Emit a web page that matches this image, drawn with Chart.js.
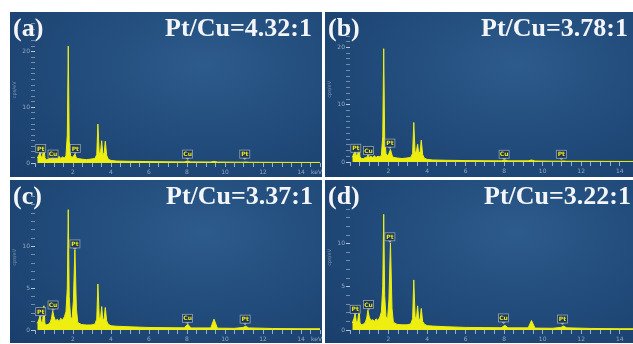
<!DOCTYPE html>
<html>
<head>
<meta charset="utf-8">
<script src="https://cdn.jsdelivr.net/npm/chart.js@4.4.1/dist/chart.umd.min.js"></script>
<style>
  html, body { margin: 0; padding: 0; background: #fff; }
  #wrap { position: relative; width: 633px; height: 344px; overflow: hidden; background: #fff; }
  .panel {
    position: absolute;
    background: radial-gradient(ellipse 85% 95% at 62% 32%, #2d5b8b 0%, #224d7d 45%, #1a3f6c 100%);
  }
  .panel canvas { position: absolute; left: 0; top: 0; }
  .tag, .ratio {
    position: absolute;
    font-family: "Liberation Serif", "Times New Roman", serif;
    font-weight: bold;
    font-size: 26px;
    line-height: 26px;
    color: #f3f5f8;
    white-space: nowrap;
    z-index: 2;
  }
</style>
</head>
<body>
<div id="wrap">
  <div class="panel" style="left:10px;top:12px;width:312px;height:165px">
    <canvas id="ga"></canvas>
    <div class="tag" style="left:3px;top:3px">(a)</div>
    <div class="ratio" style="right:10px;top:3px">Pt/Cu=4.32:1</div>
  </div>
  <div class="panel" style="left:325px;top:12px;width:308px;height:165px">
    <canvas id="gb"></canvas>
    <div class="tag" style="left:3px;top:3px">(b)</div>
    <div class="ratio" style="right:5px;top:3px">Pt/Cu=3.78:1</div>
  </div>
  <div class="panel" style="left:10px;top:180px;width:312px;height:163px">
    <canvas id="gc"></canvas>
    <div class="tag" style="left:3px;top:3px">(c)</div>
    <div class="ratio" style="right:9px;top:3px">Pt/Cu=3.37:1</div>
  </div>
  <div class="panel" style="left:325px;top:180px;width:308px;height:163px">
    <canvas id="gd"></canvas>
    <div class="tag" style="left:3px;top:3px">(d)</div>
    <div class="ratio" style="right:2px;top:3px">Pt/Cu=3.22:1</div>
  </div>
</div>

<script>
// energia (keV) comum aos quatro espectros
const energias = [0.12, 0.2, 0.27, 0.33, 0.4, 0.47, 0.52, 0.6, 0.7, 0.8,
  0.87, 0.93, 1.0, 1.08, 1.18, 1.27, 1.35, 1.45, 1.55, 1.63,
  1.7, 1.75, 1.8, 1.87, 1.95, 2.02, 2.1, 2.18, 2.25, 2.45,
  2.7, 2.95, 3.15, 3.25, 3.31, 3.38, 3.45, 3.51, 3.57, 3.64,
  3.7, 3.77, 3.85, 4.0, 4.3, 5.0, 6.0, 7.0, 7.85, 8.04,
  8.2, 9.25, 9.42, 9.6, 10.5, 10.95, 11.08, 11.25, 12.5, 14.0, 15.2];

// contagens (cps/eV) de cada amostra
const contagensA = [0.9, 1.4, 1.9, 1.0, 1.3, 3.2, 0.9, 0.6, 0.7, 0.9,
  0.8, 1.3, 0.8, 1.1, 0.8, 1.2, 0.8, 1.1, 0.9, 1.3,
  5, 21, 4, 1.3, 1.0, 1.2, 1.6, 0.9, 0.8, 0.7,
  0.6, 0.7, 0.8, 1.5, 7.0, 1.6, 2.0, 4.0, 1.5, 1.8,
  3.9, 1.4, 0.7, 0.45, 0.35, 0.3, 0.25, 0.22, 0.2, 0.35,
  0.2, 0.18, 0.3, 0.17, 0.15, 0.14, 0.18, 0.13, 0.12, 0.1, 0.1];
const contagensB = [0.8, 1.5, 1.8, 1.1, 1.4, 2.6, 0.9, 0.6, 0.6, 0.8,
  0.8, 1.2, 0.8, 1.0, 0.8, 1.1, 0.8, 1.0, 0.9, 1.2,
  4.5, 19.8, 4, 1.4, 1.1, 1.5, 2.2, 1.2, 0.8, 0.7,
  0.6, 0.7, 0.8, 1.5, 6.9, 1.6, 1.9, 3.1, 1.5, 1.8,
  3.8, 1.3, 0.7, 0.45, 0.35, 0.3, 0.25, 0.22, 0.2, 0.35,
  0.2, 0.2, 0.35, 0.18, 0.15, 0.14, 0.18, 0.13, 0.12, 0.1, 0.1];
const contagensC = [0.8, 1.2, 1.7, 0.9, 1.0, 2.9, 0.8, 0.6, 0.7, 0.9,
  1.4, 2.3, 1.6, 1.1, 1.3, 1.0, 1.4, 1.2, 1.6, 2.2,
  5, 14.4, 4, 1.6, 1.3, 3.5, 9.6, 2.5, 0.9, 0.65,
  0.6, 0.6, 0.7, 1.3, 5.5, 1.5, 1.4, 2.8, 1.2, 1.4,
  2.7, 1.1, 0.7, 0.5, 0.45, 0.38, 0.3, 0.28, 0.26, 0.7,
  0.25, 0.25, 1.3, 0.22, 0.2, 0.3, 0.45, 0.25, 0.18, 0.15, 0.15];
const contagensD = [0.8, 1.3, 1.9, 0.9, 1.0, 2.4, 0.8, 0.6, 0.7, 0.9,
  1.4, 2.3, 1.5, 1.1, 1.2, 1.0, 1.3, 1.1, 1.5, 2.1,
  5, 13.4, 4, 1.5, 1.3, 3.5, 10.1, 2.5, 0.9, 0.65,
  0.6, 0.6, 0.7, 1.3, 5.8, 1.5, 1.4, 2.8, 1.2, 1.3,
  2.5, 1.0, 0.7, 0.5, 0.45, 0.38, 0.3, 0.28, 0.26, 0.55,
  0.25, 0.25, 1.1, 0.22, 0.2, 0.3, 0.45, 0.25, 0.18, 0.15, 0.15];

// etiquetas dos picos
const nomesPicos = ["Pt", "Cu", "Pt", "Cu", "Pt"];
const picosEnergiaA = [0.3, 0.95, 2.12, 8.03, 11.04];
const picosAlturaA = [2.6, 1.6, 2.6, 1.6, 1.6];
const picosEnergiaB = [0.3, 0.96, 2.07, 8.0, 10.97];
const picosAlturaB = [2.4, 2.0, 3.3, 1.35, 1.35];
const picosEnergiaC = [0.3, 0.95, 2.1, 8.03, 11.06];
const picosAlturaC = [2.2, 3.0, 10.3, 1.4, 1.3];
const picosEnergiaD = [0.27, 0.96, 2.07, 7.97, 11.03];
const picosAlturaD = [2.4, 2.95, 10.8, 1.4, 1.27];

const rotulosXkeV = [2, 4, 6, 8, 10, 12, 14];
const rotulosYAB = [0, 10, 20];
const rotulosYCD = [0, 5, 10];

const corEixo = "#93a8c2";

// desenha as caixinhas "Pt"/"Cu" sobre os picos
const etiquetasPicos = {
  id: "etiquetasPicos",
  afterDatasetsDraw(chart, args, opts) {
    const { ctx, scales: { x, y } } = chart;
    ctx.save();
    opts.energias.forEach((e, i) => {
      const px = x.getPixelForValue(e);
      const py = y.getPixelForValue(opts.alturas[i]);
      const w = 10, h = 8;
      ctx.fillStyle = "rgba(28,52,78,0.85)";
      ctx.strokeStyle = "rgba(190,200,210,0.75)";
      ctx.lineWidth = 0.8;
      ctx.fillRect(px - w / 2, py - h / 2, w, h);
      ctx.strokeRect(px - w / 2, py - h / 2, w, h);
      ctx.beginPath();
      ctx.moveTo(px - 2, py + h / 2);
      ctx.lineTo(px + 2, py + h / 2);
      ctx.lineTo(px, py + h / 2 + 2);
      ctx.closePath();
      ctx.fillStyle = "rgba(190,200,210,0.75)";
      ctx.fill();
      ctx.fillStyle = "#e8e820";
      ctx.font = "bold 6px 'DejaVu Sans', sans-serif";
      ctx.textAlign = "center";
      ctx.textBaseline = "middle";
      ctx.fillText(opts.nomes[i], px, py + 0.5);
    });
    ctx.restore();
  },
};

function criaEspectro(id, contagens, yMax, xMax, alturaEixoX, rotulosY, picosE, picosH) {
  const ctx = document.getElementById(id).getContext("2d");
  return new Chart(ctx, {
    type: "line",
    data: {
      datasets: [
        {
          data: energias.map((e, i) => ({ x: e, y: contagens[i] })),
          borderColor: "#eeee10",
          backgroundColor: "#eeee10",
          borderWidth: 1,
          pointRadius: 0,
          tension: 0,
          fill: "origin",
        },
      ],
    },
    plugins: [etiquetasPicos],
    options: {
      responsive: true,
      maintainAspectRatio: false,
      animation: false,
      layout: { padding: 0, autoPadding: false },
      plugins: {
        legend: { display: false },
        tooltip: { enabled: false },
        etiquetasPicos: { energias: picosE, alturas: picosH, nomes: nomesPicos },
      },
      scales: {
        x: {
          type: "linear",
          min: 0,
          max: xMax,
          afterBuildTicks: (s) => {
            s.ticks = s.ticks.filter((t) => Math.abs(t.value * 2 - Math.round(t.value * 2)) < 1e-6 && t.value <= xMax);
          },
          afterFit: (s) => { s.height = alturaEixoX; },
          ticks: {
            stepSize: 0.5,
            autoSkip: false,
            maxRotation: 0,
            padding: 2,
            color: corEixo,
            font: { size: 6, family: "'DejaVu Sans', sans-serif" },
            // "keV" começa logo depois do último tique
            callback: (v) => (rotulosXkeV.includes(v) ? String(v) : v === 14.5 ? "\u2003\u2003keV" : ""),
          },
          grid: {
            display: true,
            drawOnChartArea: false,
            tickLength: 4,
            tickColor: "rgba(185,200,218,0.8)",
          },
          border: { display: false },
        },
        y: {
          min: 0,
          max: yMax,
          afterBuildTicks: (s) => {
            s.ticks = s.ticks.filter((t) => Number.isInteger(t.value));
          },
          afterFit: (s) => { s.width = 25; },
          ticks: {
            stepSize: 1,
            autoSkip: false,
            padding: 1,
            color: corEixo,
            font: { size: 6, family: "'DejaVu Sans', sans-serif" },
            callback: (v) => (rotulosY.includes(v) ? String(v) : ""),
          },
          grid: {
            display: true,
            drawOnChartArea: false,
            tickLength: 4,
            tickColor: (c) => (c.tick && rotulosY.includes(c.tick.value) ? "rgba(200,212,228,0.9)" : "rgba(170,188,210,0.6)"),
          },
          border: { display: false },
          title: {
            display: true,
            text: "cps/eV",
            color: "#7f95b0",
            font: { size: 5, family: "'DejaVu Sans', sans-serif" },
            padding: { top: 2, bottom: 0 },
          },
        },
      },
    },
  });
}

criaEspectro("ga", contagensA, 26.3, 15, 14, rotulosYAB, picosEnergiaA, picosAlturaA);
criaEspectro("gb", contagensB, 25.4, 14.69, 15, rotulosYAB, picosEnergiaB, picosAlturaB);
criaEspectro("gc", contagensC, 17.4, 15, 13, rotulosYCD, picosEnergiaC, picosAlturaC);
criaEspectro("gd", contagensD, 16.85, 14.69, 13, rotulosYCD, picosEnergiaD, picosAlturaD);
</script>
</body>
</html>
